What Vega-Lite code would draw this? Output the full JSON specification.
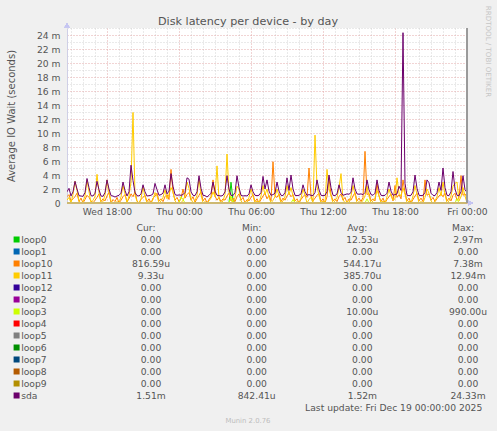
{
  "$schema": "https://vega.github.io/schema/vega-lite/v6.json",
  "background": "#F0F0F0",
  "autosize": {"type": "none"},
  "padding": {"left": 67, "top": 28, "right": 30, "bottom": 228},
  "width": 400,
  "height": 175,
  "view": {"fill": "#FFFFFF", "stroke": null},
  "config": {"font": "DejaVu Sans", "view": {"stroke": null}},
  "title": {"text": "Disk latency per device - by day", "fontSize": 11.2, "fontWeight": "normal", "color": "#555555", "anchor": "middle", "frame": "group", "font": "DejaVu Sans", "dx": -19, "dy": 22, "offset": 0},
  "layer": [
    {
      "data": {
        "values": [
{"t":"2025-12-17T14:40Z","loop0":0,"loop10":0.9,"loop11":0.4,"loop3":0,"sda":1.6},
{"t":"2025-12-17T14:50Z","loop0":0,"loop10":1.2,"loop11":0.8,"loop3":0,"sda":2.1},
{"t":"2025-12-17T15:00Z","loop0":0,"loop10":0.3,"loop11":0,"loop3":0,"sda":1.0},
{"t":"2025-12-17T15:10Z","loop0":0,"loop10":0.6,"loop11":1.2,"loop3":0,"sda":1.6},
{"t":"2025-12-17T15:20Z","loop0":0,"loop10":0.9,"loop11":3.1,"loop3":0,"sda":3.1},
{"t":"2025-12-17T15:30Z","loop0":0,"loop10":1.4,"loop11":1.8,"loop3":0,"sda":2.0},
{"t":"2025-12-17T15:40Z","loop0":0,"loop10":0.2,"loop11":0.3,"loop3":0,"sda":1.05},
{"t":"2025-12-17T15:50Z","loop0":0,"loop10":0.7,"loop11":0,"loop3":0,"sda":1.0},
{"t":"2025-12-17T16:00Z","loop0":0,"loop10":0,"loop11":0.2,"loop3":0,"sda":0.95},
{"t":"2025-12-17T16:10Z","loop0":0,"loop10":0.5,"loop11":1.0,"loop3":0,"sda":1.5},
{"t":"2025-12-17T16:20Z","loop0":0,"loop10":1.1,"loop11":3.3,"loop3":0,"sda":3.5},
{"t":"2025-12-17T16:30Z","loop0":0,"loop10":0.8,"loop11":1.6,"loop3":0,"sda":2.2},
{"t":"2025-12-17T16:40Z","loop0":0,"loop10":0.3,"loop11":0,"loop3":0,"sda":1.05},
{"t":"2025-12-17T16:50Z","loop0":0,"loop10":0,"loop11":0.4,"loop3":0,"sda":1.0},
{"t":"2025-12-17T17:00Z","loop0":0,"loop10":0.4,"loop11":0.9,"loop3":0,"sda":1.4},
{"t":"2025-12-17T17:10Z","loop0":0,"loop10":0.8,"loop11":4.1,"loop3":0,"sda":3.1},
{"t":"2025-12-17T17:20Z","loop0":0,"loop10":1.3,"loop11":1.5,"loop3":0,"sda":1.9},
{"t":"2025-12-17T17:30Z","loop0":0,"loop10":0.2,"loop11":0,"loop3":0,"sda":1.0},
{"t":"2025-12-17T17:40Z","loop0":0,"loop10":0.6,"loop11":0.2,"loop3":0,"sda":0.95},
{"t":"2025-12-17T17:50Z","loop0":0,"loop10":0.3,"loop11":1.1,"loop3":0,"sda":1.5},
{"t":"2025-12-17T18:00Z","loop0":0,"loop10":1.0,"loop11":3.3,"loop3":0,"sda":3.3},
{"t":"2025-12-17T18:10Z","loop0":0,"loop10":1.5,"loop11":1.4,"loop3":0,"sda":2.0},
{"t":"2025-12-17T18:20Z","loop0":0,"loop10":0,"loop11":0.3,"loop3":0,"sda":1.05},
{"t":"2025-12-17T18:30Z","loop0":0,"loop10":0.5,"loop11":0,"loop3":0,"sda":1.0},
{"t":"2025-12-17T18:40Z","loop0":0,"loop10":0.2,"loop11":0,"loop3":0,"sda":0.85},
{"t":"2025-12-17T18:50Z","loop0":0,"loop10":0.8,"loop11":0.2,"loop3":0,"sda":1.0},
{"t":"2025-12-17T19:00Z","loop0":0,"loop10":0,"loop11":0,"loop3":0,"sda":1.1},
{"t":"2025-12-17T19:10Z","loop0":0,"loop10":0.4,"loop11":0.9,"loop3":0,"sda":1.4},
{"t":"2025-12-17T19:20Z","loop0":0,"loop10":0.9,"loop11":2.5,"loop3":0,"sda":3.0},
{"t":"2025-12-17T19:30Z","loop0":0,"loop10":1.2,"loop11":1.3,"loop3":0,"sda":1.8},
{"t":"2025-12-17T19:40Z","loop0":0,"loop10":0.2,"loop11":0,"loop3":0,"sda":1.0},
{"t":"2025-12-17T19:50Z","loop0":0,"loop10":0.6,"loop11":1.0,"loop3":0,"sda":1.6},
{"t":"2025-12-17T20:00Z","loop0":0,"loop10":1.3,"loop11":3.0,"loop3":0,"sda":5.4},
{"t":"2025-12-17T20:10Z","loop0":0,"loop10":0.9,"loop11":12.94,"loop3":0,"sda":3.2},
{"t":"2025-12-17T20:20Z","loop0":0,"loop10":1.6,"loop11":1.2,"loop3":0,"sda":1.5},
{"t":"2025-12-17T20:30Z","loop0":0,"loop10":0.3,"loop11":0.2,"loop3":0,"sda":1.05},
{"t":"2025-12-17T20:40Z","loop0":0,"loop10":0,"loop11":0,"loop3":0,"sda":1.0},
{"t":"2025-12-17T20:50Z","loop0":0,"loop10":0.5,"loop11":0.6,"loop3":0,"sda":1.3},
{"t":"2025-12-17T21:00Z","loop0":0,"loop10":0.8,"loop11":2.3,"loop3":0,"sda":2.6},
{"t":"2025-12-17T21:10Z","loop0":0,"loop10":1.1,"loop11":0.9,"loop3":0,"sda":1.6},
{"t":"2025-12-17T21:20Z","loop0":0,"loop10":0.2,"loop11":0,"loop3":0,"sda":1.0},
{"t":"2025-12-17T21:30Z","loop0":0,"loop10":0.6,"loop11":0.2,"loop3":0,"sda":1.05},
{"t":"2025-12-17T21:40Z","loop0":0,"loop10":0,"loop11":0,"loop3":0,"sda":1.1},
{"t":"2025-12-17T21:50Z","loop0":0,"loop10":0.7,"loop11":0.5,"loop3":0,"sda":1.3},
{"t":"2025-12-17T22:00Z","loop0":0,"loop10":1.0,"loop11":1.5,"loop3":0,"sda":2.8},
{"t":"2025-12-17T22:10Z","loop0":0,"loop10":1.4,"loop11":1.0,"loop3":0,"sda":1.9},
{"t":"2025-12-17T22:20Z","loop0":0,"loop10":0.3,"loop11":0,"loop3":0,"sda":1.1},
{"t":"2025-12-17T22:30Z","loop0":0,"loop10":0.6,"loop11":0.3,"loop3":0,"sda":1.2},
{"t":"2025-12-17T22:40Z","loop0":0,"loop10":0.2,"loop11":0.8,"loop3":0,"sda":1.4},
{"t":"2025-12-17T22:50Z","loop0":0,"loop10":0.9,"loop11":1.9,"loop3":0,"sda":2.6},
{"t":"2025-12-17T23:00Z","loop0":0,"loop10":1.2,"loop11":0.6,"loop3":0,"sda":1.3},
{"t":"2025-12-17T23:10Z","loop0":0,"loop10":0.5,"loop11":1.2,"loop3":0,"sda":1.7},
{"t":"2025-12-17T23:20Z","loop0":0,"loop10":4.8,"loop11":2.2,"loop3":0,"sda":4.2},
{"t":"2025-12-17T23:30Z","loop0":0,"loop10":1.5,"loop11":1.6,"loop3":0,"sda":2.4},
{"t":"2025-12-17T23:40Z","loop0":0,"loop10":0.4,"loop11":0.3,"loop3":0,"sda":1.2},
{"t":"2025-12-17T23:50Z","loop0":0,"loop10":0.8,"loop11":0,"loop3":0,"sda":1.1},
{"t":"2025-12-18T00:00Z","loop0":0,"loop10":0.2,"loop11":0.2,"loop3":0,"sda":1.15},
{"t":"2025-12-18T00:10Z","loop0":0,"loop10":0.6,"loop11":0,"loop3":0.9,"sda":1.1},
{"t":"2025-12-18T00:20Z","loop0":0,"loop10":2.0,"loop11":0.4,"loop3":0.5,"sda":1.2},
{"t":"2025-12-18T00:30Z","loop0":0,"loop10":0.7,"loop11":1.0,"loop3":0,"sda":1.5},
{"t":"2025-12-18T00:40Z","loop0":0,"loop10":1.2,"loop11":3.0,"loop3":0,"sda":3.6},
{"t":"2025-12-18T00:50Z","loop0":0,"loop10":1.5,"loop11":2.1,"loop3":0,"sda":3.4},
{"t":"2025-12-18T01:00Z","loop0":0,"loop10":0.4,"loop11":0.6,"loop3":0,"sda":1.6},
{"t":"2025-12-18T01:10Z","loop0":0,"loop10":0.9,"loop11":0,"loop3":0,"sda":1.1},
{"t":"2025-12-18T01:20Z","loop0":0,"loop10":0.1,"loop11":0.3,"loop3":0,"sda":1.05},
{"t":"2025-12-18T01:30Z","loop0":0,"loop10":0.6,"loop11":1.1,"loop3":0,"sda":1.6},
{"t":"2025-12-18T01:40Z","loop0":0,"loop10":1.1,"loop11":3.5,"loop3":0,"sda":3.9},
{"t":"2025-12-18T01:50Z","loop0":0,"loop10":1.6,"loop11":1.2,"loop3":0,"sda":2.1},
{"t":"2025-12-18T02:00Z","loop0":0,"loop10":0.3,"loop11":0,"loop3":0,"sda":1.1},
{"t":"2025-12-18T02:10Z","loop0":0,"loop10":0.7,"loop11":0.2,"loop3":0,"sda":1.05},
{"t":"2025-12-18T02:20Z","loop0":0,"loop10":0,"loop11":0,"loop3":0,"sda":0.85},
{"t":"2025-12-18T02:30Z","loop0":0,"loop10":0.5,"loop11":0.3,"loop3":0,"sda":1.1},
{"t":"2025-12-18T02:40Z","loop0":0,"loop10":0.9,"loop11":0.7,"loop3":0,"sda":1.4},
{"t":"2025-12-18T02:50Z","loop0":0,"loop10":3.3,"loop11":1.6,"loop3":0,"sda":3.0},
{"t":"2025-12-18T03:00Z","loop0":0,"loop10":1.0,"loop11":0.9,"loop3":0,"sda":1.7},
{"t":"2025-12-18T03:10Z","loop0":0,"loop10":0.4,"loop11":5.3,"loop3":0,"sda":1.1},
{"t":"2025-12-18T03:20Z","loop0":0,"loop10":0.8,"loop11":0.6,"loop3":0,"sda":1.05},
{"t":"2025-12-18T03:30Z","loop0":0,"loop10":0.2,"loop11":0,"loop3":0,"sda":1.0},
{"t":"2025-12-18T03:40Z","loop0":0,"loop10":0.6,"loop11":0.3,"loop3":0,"sda":1.1},
{"t":"2025-12-18T03:50Z","loop0":0,"loop10":0.4,"loop11":1.2,"loop3":0,"sda":1.6},
{"t":"2025-12-18T04:00Z","loop0":0,"loop10":1.0,"loop11":7.0,"loop3":0,"sda":3.9},
{"t":"2025-12-18T04:10Z","loop0":0,"loop10":1.4,"loop11":1.5,"loop3":0,"sda":2.0},
{"t":"2025-12-18T04:20Z","loop0":2.97,"loop10":0.3,"loop11":0.4,"loop3":0.99,"sda":1.1},
{"t":"2025-12-18T04:30Z","loop0":0.4,"loop10":0.7,"loop11":0,"loop3":0,"sda":1.05},
{"t":"2025-12-18T04:40Z","loop0":0,"loop10":0.2,"loop11":0.8,"loop3":0,"sda":1.5},
{"t":"2025-12-18T04:50Z","loop0":0,"loop10":0.9,"loop11":2.4,"loop3":0,"sda":3.9},
{"t":"2025-12-18T05:00Z","loop0":0,"loop10":1.3,"loop11":2.0,"loop3":0,"sda":2.2},
{"t":"2025-12-18T05:10Z","loop0":0,"loop10":0.4,"loop11":0.3,"loop3":0,"sda":1.1},
{"t":"2025-12-18T05:20Z","loop0":0,"loop10":0.8,"loop11":0,"loop3":0,"sda":1.0},
{"t":"2025-12-18T05:30Z","loop0":0,"loop10":0,"loop11":0.2,"loop3":0,"sda":1.05},
{"t":"2025-12-18T05:40Z","loop0":0,"loop10":0.5,"loop11":0,"loop3":0,"sda":1.0},
{"t":"2025-12-18T05:50Z","loop0":0,"loop10":0.3,"loop11":0.8,"loop3":0,"sda":1.3},
{"t":"2025-12-18T06:00Z","loop0":0,"loop10":0.8,"loop11":2.0,"loop3":0,"sda":2.6},
{"t":"2025-12-18T06:10Z","loop0":0,"loop10":1.2,"loop11":1.0,"loop3":0,"sda":1.6},
{"t":"2025-12-18T06:20Z","loop0":0,"loop10":0.2,"loop11":0,"loop3":0,"sda":1.1},
{"t":"2025-12-18T06:30Z","loop0":0,"loop10":0.6,"loop11":0.3,"loop3":0,"sda":1.05},
{"t":"2025-12-18T06:40Z","loop0":0,"loop10":0,"loop11":0,"loop3":0,"sda":1.1},
{"t":"2025-12-18T06:50Z","loop0":0,"loop10":0.5,"loop11":1.0,"loop3":0,"sda":1.5},
{"t":"2025-12-18T07:00Z","loop0":0,"loop10":1.0,"loop11":2.5,"loop3":0,"sda":3.8},
{"t":"2025-12-18T07:10Z","loop0":0,"loop10":1.4,"loop11":1.2,"loop3":0,"sda":2.0},
{"t":"2025-12-18T07:20Z","loop0":0,"loop10":0.6,"loop11":2.0,"loop3":0,"sda":3.3},
{"t":"2025-12-18T07:30Z","loop0":0,"loop10":1.1,"loop11":0.8,"loop3":0,"sda":1.7},
{"t":"2025-12-18T07:40Z","loop0":0,"loop10":0.3,"loop11":0,"loop3":0,"sda":1.1},
{"t":"2025-12-18T07:50Z","loop0":0,"loop10":5.9,"loop11":0.4,"loop3":0,"sda":1.2},
{"t":"2025-12-18T08:00Z","loop0":0,"loop10":1.0,"loop11":0.9,"loop3":0,"sda":1.4},
{"t":"2025-12-18T08:10Z","loop0":0,"loop10":0.8,"loop11":2.0,"loop3":0,"sda":3.0},
{"t":"2025-12-18T08:20Z","loop0":0,"loop10":1.3,"loop11":1.0,"loop3":0,"sda":1.7},
{"t":"2025-12-18T08:30Z","loop0":0,"loop10":0.2,"loop11":0,"loop3":0,"sda":1.1},
{"t":"2025-12-18T08:40Z","loop0":0,"loop10":0.7,"loop11":0.3,"loop3":0,"sda":1.05},
{"t":"2025-12-18T08:50Z","loop0":0,"loop10":0.4,"loop11":0.9,"loop3":0,"sda":1.5},
{"t":"2025-12-18T09:00Z","loop0":0,"loop10":1.0,"loop11":2.5,"loop3":0,"sda":3.6},
{"t":"2025-12-18T09:10Z","loop0":0,"loop10":1.4,"loop11":1.2,"loop3":0,"sda":1.8},
{"t":"2025-12-18T09:20Z","loop0":0,"loop10":0.9,"loop11":2.2,"loop3":0,"sda":4.0},
{"t":"2025-12-18T09:30Z","loop0":0,"loop10":1.2,"loop11":1.0,"loop3":0.5,"sda":2.0},
{"t":"2025-12-18T09:40Z","loop0":0,"loop10":0.3,"loop11":0,"loop3":0,"sda":1.1},
{"t":"2025-12-18T09:50Z","loop0":0,"loop10":0.6,"loop11":0.2,"loop3":0,"sda":1.05},
{"t":"2025-12-18T10:00Z","loop0":0,"loop10":0,"loop11":0,"loop3":0,"sda":1.1},
{"t":"2025-12-18T10:10Z","loop0":0,"loop10":0.5,"loop11":0.7,"loop3":0,"sda":1.3},
{"t":"2025-12-18T10:20Z","loop0":0,"loop10":0.9,"loop11":2.0,"loop3":0,"sda":2.6},
{"t":"2025-12-18T10:30Z","loop0":0,"loop10":1.2,"loop11":1.1,"loop3":0,"sda":1.6},
{"t":"2025-12-18T10:40Z","loop0":0,"loop10":0.8,"loop11":0,"loop3":0,"sda":1.1},
{"t":"2025-12-18T10:50Z","loop0":0,"loop10":5.0,"loop11":0.5,"loop3":0,"sda":1.2},
{"t":"2025-12-18T11:00Z","loop0":0,"loop10":1.0,"loop11":0.8,"loop3":0,"sda":1.1},
{"t":"2025-12-18T11:10Z","loop0":0,"loop10":0.3,"loop11":0,"loop3":0,"sda":1.05},
{"t":"2025-12-18T11:20Z","loop0":0,"loop10":0.7,"loop11":9.7,"loop3":0,"sda":1.5},
{"t":"2025-12-18T11:30Z","loop0":0,"loop10":1.1,"loop11":2.4,"loop3":0,"sda":3.3},
{"t":"2025-12-18T11:40Z","loop0":0,"loop10":1.4,"loop11":1.0,"loop3":0,"sda":1.9},
{"t":"2025-12-18T11:50Z","loop0":0,"loop10":0.2,"loop11":0,"loop3":0,"sda":1.1},
{"t":"2025-12-18T12:00Z","loop0":0,"loop10":0.6,"loop11":0.3,"loop3":0,"sda":1.05},
{"t":"2025-12-18T12:10Z","loop0":0,"loop10":0,"loop11":0,"loop3":0,"sda":1.1},
{"t":"2025-12-18T12:20Z","loop0":0,"loop10":0.9,"loop11":4.8,"loop3":0,"sda":1.6},
{"t":"2025-12-18T12:30Z","loop0":0,"loop10":3.5,"loop11":2.0,"loop3":0,"sda":4.0},
{"t":"2025-12-18T12:40Z","loop0":0,"loop10":1.2,"loop11":1.0,"loop3":0,"sda":2.2},
{"t":"2025-12-18T12:50Z","loop0":0,"loop10":0.3,"loop11":0,"loop3":0,"sda":1.1},
{"t":"2025-12-18T13:00Z","loop0":0,"loop10":0.6,"loop11":0.3,"loop3":0,"sda":1.05},
{"t":"2025-12-18T13:10Z","loop0":0,"loop10":0.2,"loop11":0.8,"loop3":0,"sda":1.3},
{"t":"2025-12-18T13:20Z","loop0":0,"loop10":0.9,"loop11":2.2,"loop3":0,"sda":2.6},
{"t":"2025-12-18T13:30Z","loop0":0,"loop10":1.3,"loop11":4.2,"loop3":0,"sda":1.5},
{"t":"2025-12-18T13:40Z","loop0":0,"loop10":0.4,"loop11":0.5,"loop3":0,"sda":1.1},
{"t":"2025-12-18T13:50Z","loop0":0,"loop10":0.8,"loop11":0,"loop3":0,"sda":1.2},
{"t":"2025-12-18T14:00Z","loop0":0,"loop10":0,"loop11":0.3,"loop3":0,"sda":1.3},
{"t":"2025-12-18T14:10Z","loop0":0,"loop10":0.6,"loop11":0,"loop3":0,"sda":1.25},
{"t":"2025-12-18T14:20Z","loop0":0,"loop10":0.4,"loop11":1.0,"loop3":0,"sda":1.5},
{"t":"2025-12-18T14:30Z","loop0":0,"loop10":1.0,"loop11":2.5,"loop3":0,"sda":3.6},
{"t":"2025-12-18T14:40Z","loop0":0,"loop10":1.5,"loop11":1.2,"loop3":0,"sda":2.0},
{"t":"2025-12-18T14:50Z","loop0":0,"loop10":0.3,"loop11":0,"loop3":0,"sda":1.3},
{"t":"2025-12-18T15:00Z","loop0":0,"loop10":0.7,"loop11":0.2,"loop3":0,"sda":1.25},
{"t":"2025-12-18T15:10Z","loop0":0,"loop10":0.2,"loop11":0,"loop3":0,"sda":1.3},
{"t":"2025-12-18T15:20Z","loop0":0,"loop10":0.8,"loop11":0.4,"loop3":0,"sda":1.2},
{"t":"2025-12-18T15:30Z","loop0":0,"loop10":7.38,"loop11":1.0,"loop3":0,"sda":1.5},
{"t":"2025-12-18T15:40Z","loop0":0,"loop10":1.2,"loop11":2.4,"loop3":0.6,"sda":3.3},
{"t":"2025-12-18T15:50Z","loop0":0,"loop10":1.4,"loop11":1.0,"loop3":0,"sda":1.9},
{"t":"2025-12-18T16:00Z","loop0":0,"loop10":0.3,"loop11":0,"loop3":0,"sda":1.2},
{"t":"2025-12-18T16:10Z","loop0":0,"loop10":0.6,"loop11":0.3,"loop3":0,"sda":1.1},
{"t":"2025-12-18T16:20Z","loop0":0,"loop10":0.3,"loop11":0.7,"loop3":0,"sda":1.4},
{"t":"2025-12-18T16:30Z","loop0":0,"loop10":2.8,"loop11":1.8,"loop3":0,"sda":3.3},
{"t":"2025-12-18T16:40Z","loop0":0,"loop10":1.0,"loop11":1.0,"loop3":0,"sda":1.8},
{"t":"2025-12-18T16:50Z","loop0":0,"loop10":0.2,"loop11":0,"loop3":0,"sda":1.1},
{"t":"2025-12-18T17:00Z","loop0":0,"loop10":0.7,"loop11":0.3,"loop3":0,"sda":1.05},
{"t":"2025-12-18T17:10Z","loop0":0,"loop10":0,"loop11":0,"loop3":0,"sda":1.1},
{"t":"2025-12-18T17:20Z","loop0":0,"loop10":0.5,"loop11":0.9,"loop3":0,"sda":1.4},
{"t":"2025-12-18T17:30Z","loop0":0,"loop10":0.9,"loop11":2.0,"loop3":0,"sda":3.0},
{"t":"2025-12-18T17:40Z","loop0":0,"loop10":1.3,"loop11":1.0,"loop3":0,"sda":1.7},
{"t":"2025-12-18T17:50Z","loop0":0,"loop10":0.3,"loop11":0.4,"loop3":0,"sda":1.1},
{"t":"2025-12-18T18:00Z","loop0":0,"loop10":2.5,"loop11":0.6,"loop3":0,"sda":1.2},
{"t":"2025-12-18T18:10Z","loop0":0,"loop10":0.8,"loop11":3.6,"loop3":0,"sda":1.3},
{"t":"2025-12-18T18:20Z","loop0":0,"loop10":1.2,"loop11":1.4,"loop3":0,"sda":2.4},
{"t":"2025-12-18T18:30Z","loop0":0,"loop10":0.6,"loop11":1.0,"loop3":0,"sda":1.8},
{"t":"2025-12-18T18:40Z","loop0":0,"loop10":3.3,"loop11":2.2,"loop3":0,"sda":24.33},
{"t":"2025-12-18T18:50Z","loop0":0,"loop10":1.5,"loop11":1.2,"loop3":0,"sda":2.8},
{"t":"2025-12-18T19:00Z","loop0":0,"loop10":0.3,"loop11":0,"loop3":0,"sda":1.1},
{"t":"2025-12-18T19:10Z","loop0":0,"loop10":0.7,"loop11":0.3,"loop3":0,"sda":1.05},
{"t":"2025-12-18T19:20Z","loop0":0,"loop10":0,"loop11":0,"loop3":0,"sda":1.1},
{"t":"2025-12-18T19:30Z","loop0":0,"loop10":0.5,"loop11":1.0,"loop3":0,"sda":1.6},
{"t":"2025-12-18T19:40Z","loop0":0,"loop10":1.0,"loop11":2.5,"loop3":0,"sda":4.0},
{"t":"2025-12-18T19:50Z","loop0":0,"loop10":1.4,"loop11":1.2,"loop3":0,"sda":2.1},
{"t":"2025-12-18T20:00Z","loop0":0,"loop10":0.3,"loop11":0,"loop3":0,"sda":1.1},
{"t":"2025-12-18T20:10Z","loop0":0,"loop10":0.7,"loop11":0.2,"loop3":0,"sda":1.05},
{"t":"2025-12-18T20:20Z","loop0":0,"loop10":0.2,"loop11":0,"loop3":0,"sda":1.1},
{"t":"2025-12-18T20:30Z","loop0":0,"loop10":3.3,"loop11":0.8,"loop3":0,"sda":1.5},
{"t":"2025-12-18T20:40Z","loop0":0,"loop10":1.1,"loop11":2.0,"loop3":0,"sda":3.3},
{"t":"2025-12-18T20:50Z","loop0":0,"loop10":1.3,"loop11":1.4,"loop3":0,"sda":2.9},
{"t":"2025-12-18T21:00Z","loop0":0,"loop10":0.4,"loop11":0.3,"loop3":0,"sda":1.4},
{"t":"2025-12-18T21:10Z","loop0":0,"loop10":0.8,"loop11":0,"loop3":0,"sda":1.1},
{"t":"2025-12-18T21:20Z","loop0":0,"loop10":0.2,"loop11":0.3,"loop3":0,"sda":1.05},
{"t":"2025-12-18T21:30Z","loop0":0,"loop10":0.6,"loop11":0.9,"loop3":0,"sda":1.5},
{"t":"2025-12-18T21:40Z","loop0":0,"loop10":1.0,"loop11":2.2,"loop3":0,"sda":3.0},
{"t":"2025-12-18T21:50Z","loop0":0,"loop10":1.3,"loop11":1.0,"loop3":0,"sda":1.8},
{"t":"2025-12-18T22:00Z","loop0":0,"loop10":0.9,"loop11":3.0,"loop3":0,"sda":5.0},
{"t":"2025-12-18T22:10Z","loop0":0,"loop10":1.4,"loop11":1.2,"loop3":0,"sda":2.2},
{"t":"2025-12-18T22:20Z","loop0":0,"loop10":0.3,"loop11":0,"loop3":0,"sda":1.1},
{"t":"2025-12-18T22:30Z","loop0":0,"loop10":0.7,"loop11":0.3,"loop3":0,"sda":1.05},
{"t":"2025-12-18T22:40Z","loop0":0,"loop10":0.3,"loop11":1.0,"loop3":0,"sda":1.6},
{"t":"2025-12-18T22:50Z","loop0":0,"loop10":1.1,"loop11":2.4,"loop3":0,"sda":4.5},
{"t":"2025-12-18T23:00Z","loop0":0,"loop10":1.4,"loop11":2.8,"loop3":0,"sda":2.0},
{"t":"2025-12-18T23:10Z","loop0":0,"loop10":0.4,"loop11":3.0,"loop3":0.6,"sda":1.1},
{"t":"2025-12-18T23:20Z","loop0":0,"loop10":0.8,"loop11":0.3,"loop3":0,"sda":1.05},
{"t":"2025-12-18T23:30Z","loop0":0,"loop10":3.9,"loop11":0.9,"loop3":0,"sda":1.6},
{"t":"2025-12-18T23:40Z","loop0":0,"loop10":1.1,"loop11":2.2,"loop3":0,"sda":3.9},
{"t":"2025-12-18T23:50Z","loop0":0,"loop10":1.3,"loop11":1.0,"loop3":0,"sda":1.9},
{"t":"2025-12-19T00:00Z","loop0":0,"loop10":0.82,"loop11":0.01,"loop3":0,"sda":1.51}
        ]
      },
      "layer": [
        {
          "transform": [{"fold": ["loop0", "loop10", "loop11", "loop3", "sda"], "as": ["series", "value"]}],
          "mark": {"type": "line", "strokeWidth": 1, "clip": true},
          "encoding": {
            "x": {
              "field": "t", "type": "temporal",
              "scale": {"type": "utc", "domain": [{"year": 2025, "month": 12, "date": 17, "hours": 14, "minutes": 40, "utc": true}, {"year": 2025, "month": 12, "date": 19, "hours": 0, "utc": true}]},
              "axis": {
                "orient": "bottom", "title": null, "labels": false, "ticks": false, "domain": false,
                "grid": true, "gridColor": "#D4D4D4", "gridDash": [1, 2], "gridOpacity": 1, "gridWidth": 1,
                "values": [
                  {"year": 2025, "month": 12, "date": 17, "hours": 15, "utc": true},
                  {"year": 2025, "month": 12, "date": 17, "hours": 16, "utc": true},
                  {"year": 2025, "month": 12, "date": 17, "hours": 17, "utc": true},
                  {"year": 2025, "month": 12, "date": 17, "hours": 19, "utc": true},
                  {"year": 2025, "month": 12, "date": 17, "hours": 20, "utc": true},
                  {"year": 2025, "month": 12, "date": 17, "hours": 21, "utc": true},
                  {"year": 2025, "month": 12, "date": 17, "hours": 22, "utc": true},
                  {"year": 2025, "month": 12, "date": 17, "hours": 23, "utc": true},
                  {"year": 2025, "month": 12, "date": 18, "hours": 1, "utc": true},
                  {"year": 2025, "month": 12, "date": 18, "hours": 2, "utc": true},
                  {"year": 2025, "month": 12, "date": 18, "hours": 3, "utc": true},
                  {"year": 2025, "month": 12, "date": 18, "hours": 4, "utc": true},
                  {"year": 2025, "month": 12, "date": 18, "hours": 5, "utc": true},
                  {"year": 2025, "month": 12, "date": 18, "hours": 7, "utc": true},
                  {"year": 2025, "month": 12, "date": 18, "hours": 8, "utc": true},
                  {"year": 2025, "month": 12, "date": 18, "hours": 9, "utc": true},
                  {"year": 2025, "month": 12, "date": 18, "hours": 10, "utc": true},
                  {"year": 2025, "month": 12, "date": 18, "hours": 11, "utc": true},
                  {"year": 2025, "month": 12, "date": 18, "hours": 13, "utc": true},
                  {"year": 2025, "month": 12, "date": 18, "hours": 14, "utc": true},
                  {"year": 2025, "month": 12, "date": 18, "hours": 15, "utc": true},
                  {"year": 2025, "month": 12, "date": 18, "hours": 16, "utc": true},
                  {"year": 2025, "month": 12, "date": 18, "hours": 17, "utc": true},
                  {"year": 2025, "month": 12, "date": 18, "hours": 19, "utc": true},
                  {"year": 2025, "month": 12, "date": 18, "hours": 20, "utc": true},
                  {"year": 2025, "month": 12, "date": 18, "hours": 21, "utc": true},
                  {"year": 2025, "month": 12, "date": 18, "hours": 22, "utc": true},
                  {"year": 2025, "month": 12, "date": 18, "hours": 23, "utc": true}
                ]
              }
            },
            "y": {
              "field": "value", "type": "quantitative",
              "scale": {"domain": [0, 25], "nice": false, "zero": true},
              "axis": {
                "orient": "left", "title": null, "labels": false, "ticks": false, "domain": false,
                "grid": true, "gridColor": "#D4D4D4", "gridDash": [1, 2], "gridOpacity": 1, "gridWidth": 1,
                "values": [1, 3, 5, 7, 9, 11, 13, 15, 17, 19, 21, 23, 25]
              }
            },
            "color": {
              "field": "series", "type": "nominal",
              "scale": {
                "domain": ["loop0", "loop1", "loop10", "loop11", "loop12", "loop2", "loop3", "loop4", "loop5", "loop6", "loop7", "loop8", "loop9", "sda"],
                "range": ["#00CC00", "#0066B3", "#FF8000", "#FFCC00", "#330099", "#990099", "#CCFF00", "#FF0000", "#808080", "#008F00", "#00487D", "#B35A00", "#B38F00", "#6B006B"]
              },
              "legend": {
                "orient": "none", "legendX": -55, "legendY": 205.5, "direction": "vertical", "title": null,
                "padding": 0, "symbolType": "square", "symbolSize": 9, "symbolStrokeWidth": 3, "symbolOpacity": 1,
                "labelFontSize": 9.2, "labelColor": "#555555", "labelOffset": 0, "rowPadding": 0, "clipHeight": 12, "labelFont": "DejaVu Sans"
              }
            }
          }
        },
        {
          "mark": {"type": "rule", "color": "#CDB872", "strokeWidth": 1},
          "encoding": {
            "y": {
              "datum": 0, "type": "quantitative",
              "axis": {
                "orient": "left",
                "values": [0, 2, 4, 6, 8, 10, 12, 14, 16, 18, 20, 22, 24],
                "labelExpr": "datum.value == 0 ? '0' : datum.value + ' m'",
                "labelOverlap": false, "labelFontSize": 9.2, "labelColor": "#555555", "labelPadding": 7,
                "ticks": false, "domain": true, "domainColor": "#CFCFE6",
                "grid": true, "gridColor": "#E2A9A9", "gridDash": [1, 2], "gridOpacity": 1, "gridWidth": 1,
                "title": "Average IO Wait (seconds)", "titleFontSize": 10, "titleFontWeight": "normal", "titleColor": "#555555",
                "titleX": -51, "titleY": 87.5, "titleAngle": 270, "titleBaseline": "bottom"
              }
            }
          }
        },
        {
          "mark": {"type": "rule", "color": "#9A9A9A", "strokeWidth": 1},
          "encoding": {
            "x": {
              "datum": {"year": 2025, "month": 12, "date": 19, "hours": 0, "utc": true}, "type": "temporal",
              "axis": {
                "orient": "bottom", "title": null,
                "values": [
                  {"year": 2025, "month": 12, "date": 17, "hours": 18, "utc": true},
                  {"year": 2025, "month": 12, "date": 18, "hours": 0, "utc": true},
                  {"year": 2025, "month": 12, "date": 18, "hours": 6, "utc": true},
                  {"year": 2025, "month": 12, "date": 18, "hours": 12, "utc": true},
                  {"year": 2025, "month": 12, "date": 18, "hours": 18, "utc": true},
                  {"year": 2025, "month": 12, "date": 19, "hours": 0, "utc": true}
                ],
                "labelExpr": "utcFormat(datum.value, '%a %H:%M')",
                "labelOverlap": false, "labelFlush": false, "labelBound": false,
                "labelFontSize": 9.2, "labelColor": "#555555", "labelPadding": 4,
                "ticks": false, "domain": false,
                "grid": true, "gridColor": "#E2A9A9", "gridDash": [1, 2], "gridOpacity": 1, "gridWidth": 1
              }
            }
          }
        },
        {
          "mark": {"type": "point", "shape": "triangle-up", "filled": true, "size": 22, "color": "#C5C5F2", "opacity": 1},
          "encoding": {
            "x": {"datum": {"year": 2025, "month": 12, "date": 17, "hours": 14, "minutes": 40, "utc": true}, "type": "temporal", "axis": null},
            "y": {"datum": 25.4, "type": "quantitative", "axis": null}
          }
        },
        {
          "mark": {"type": "point", "shape": "triangle-right", "filled": true, "size": 22, "color": "#C5C5F2", "opacity": 1},
          "encoding": {
            "x": {"datum": {"year": 2025, "month": 12, "date": 19, "hours": 0, "minutes": 16, "utc": true}, "type": "temporal", "axis": null},
            "y": {
              "datum": 0, "type": "quantitative",
              "axis": {
                "orient": "right", "labels": false, "ticks": false, "domain": false, "grid": false,
                "title": "RRDTOOL / TOBI OETIKER", "titleFontSize": 7.1, "titleFontWeight": "normal", "titleColor": "#C6C6C6",
                "titleAngle": 90, "titleX": 17, "titleY": 23, "titleBaseline": "bottom"
              }
            }
          }
        }
      ],
      "resolve": {"axis": {"x": "independent", "y": "independent"}}
    },
    {
      "data": {
        "values": [
          {"name": "loop0", "cur": "0.00", "min": "0.00", "avg": "12.53u", "max": "2.97m"},
          {"name": "loop1", "cur": "0.00", "min": "0.00", "avg": "0.00", "max": "0.00"},
          {"name": "loop10", "cur": "816.59u", "min": "0.00", "avg": "544.17u", "max": "7.38m"},
          {"name": "loop11", "cur": "9.33u", "min": "0.00", "avg": "385.70u", "max": "12.94m"},
          {"name": "loop12", "cur": "0.00", "min": "0.00", "avg": "0.00", "max": "0.00"},
          {"name": "loop2", "cur": "0.00", "min": "0.00", "avg": "0.00", "max": "0.00"},
          {"name": "loop3", "cur": "0.00", "min": "0.00", "avg": "10.00u", "max": "990.00u"},
          {"name": "loop4", "cur": "0.00", "min": "0.00", "avg": "0.00", "max": "0.00"},
          {"name": "loop5", "cur": "0.00", "min": "0.00", "avg": "0.00", "max": "0.00"},
          {"name": "loop6", "cur": "0.00", "min": "0.00", "avg": "0.00", "max": "0.00"},
          {"name": "loop7", "cur": "0.00", "min": "0.00", "avg": "0.00", "max": "0.00"},
          {"name": "loop8", "cur": "0.00", "min": "0.00", "avg": "0.00", "max": "0.00"},
          {"name": "loop9", "cur": "0.00", "min": "0.00", "avg": "0.00", "max": "0.00"},
          {"name": "sda", "cur": "1.51m", "min": "842.41u", "avg": "1.52m", "max": "24.33m"}
        ]
      },
      "layer": [
        {
          "transform": [{"fold": ["cur", "min", "avg", "max"], "as": ["col", "txt"]}],
          "mark": {"type": "text", "fontSize": 9.2, "color": "#555555", "align": "center", "baseline": "alphabetic"},
          "encoding": {
            "x": {"field": "col", "type": "nominal", "scale": {"type": "point", "domain": ["cur", "min", "avg", "max"], "range": [84, 401], "padding": 0}, "axis": null},
            "y": {"field": "name", "type": "nominal", "scale": {"type": "point", "domain": ["header", "loop0", "loop1", "loop10", "loop11", "loop12", "loop2", "loop3", "loop4", "loop5", "loop6", "loop7", "loop8", "loop9", "sda", "update", "munin"], "range": [203, 395], "padding": 0}, "axis": null},
            "text": {"field": "txt"}
          }
        },
        {
          "data": {"values": [{"name": "header", "cur": "Cur:", "min": "Min:", "avg": "Avg:", "max": "Max:"}]},
          "transform": [{"fold": ["cur", "min", "avg", "max"], "as": ["col", "txt"]}],
          "mark": {"type": "text", "fontSize": 9.2, "color": "#555555", "align": "center", "baseline": "alphabetic", "dx": -5},
          "encoding": {
            "x": {"field": "col", "type": "nominal"},
            "y": {"field": "name", "type": "nominal"},
            "text": {"field": "txt"}
          }
        },
        {
          "data": {"values": [{"label": "Last update: Fri Dec 19 00:00:00 2025"}]},
          "mark": {"type": "text", "fontSize": 9.2, "color": "#555555", "align": "right", "baseline": "alphabetic", "dx": 14.3},
          "encoding": {
            "x": {"datum": "max", "type": "nominal"},
            "y": {"datum": "update", "type": "nominal"},
            "text": {"field": "label"}
          }
        },
        {
          "data": {"values": [{"label": "Munin 2.0.76"}]},
          "mark": {"type": "text", "fontSize": 6.9, "color": "#BDBDBD", "align": "center", "baseline": "alphabetic", "dx": -8.7},
          "encoding": {
            "x": {"datum": "min", "type": "nominal"},
            "y": {"datum": "munin", "type": "nominal"},
            "text": {"field": "label"}
          }
        }
      ]
    }
  ],
  "resolve": {"scale": {"x": "independent", "y": "independent"}}
}
